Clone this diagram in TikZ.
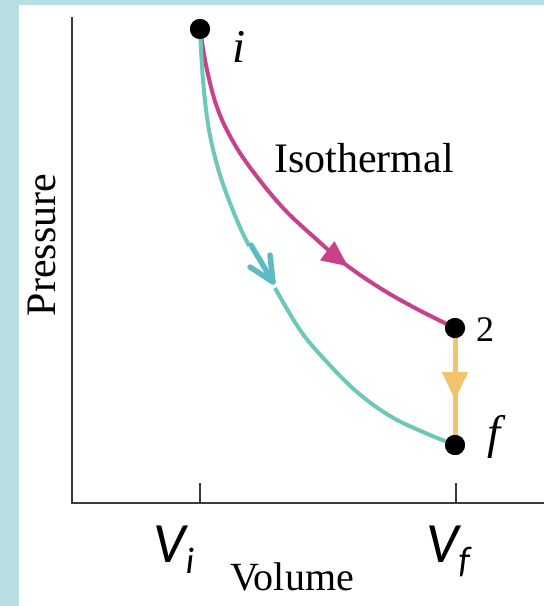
\documentclass[tikz,border=0pt]{standalone}
\usepackage{fontspec}
\setmainfont{Liberation Serif}
\newfontfamily\carl{Carlito}
\usetikzlibrary{arrows.meta,decorations.markings}
\definecolor{bordblue}{HTML}{B8DFE3}
\definecolor{isomag}{HTML}{C8428A}
\definecolor{adiateal}{HTML}{6EC8B9}
\definecolor{chevteal}{HTML}{5DBAC6}
\definecolor{isoorange}{HTML}{F2C46D}
\definecolor{axisgray}{HTML}{3A3A3A}
\tikzset{
  statedot/.style={circle,fill=black,minimum size=20pt,inner sep=0pt},
  axisline/.style={draw=axisgray,line width=2pt},
  serlabel/.style={inner sep=0pt,font=\fontsize{42}{48}\selectfont},
  itlabel/.style={inner sep=0pt,font=\fontsize{47}{52}\selectfont\itshape},
  vlabel/.style={inner sep=0pt,font=\carl\itshape\fontsize{57}{62}\selectfont},
  isocurve/.style={draw=isomag,line width=4pt},
  adiacurve/.style={draw=adiateal,line width=4pt},
}
\begin{document}
\begin{tikzpicture}[x=1pt,y=-1pt]
\fill[bordblue] (0,0) rectangle (544,606);
\fill[white] (19,5) rectangle (544,606);
\useasboundingbox (0,0) rectangle (544,606);
% axes
\coordinate (ytop) at (72,17);
\coordinate (orig) at (72,503);
\coordinate (xend) at (544,503);
\draw[axisline] (ytop) -- (orig) -- (xend);
\coordinate (tvi) at (200,483);
\coordinate (tvib) at (200,503);
\coordinate (tvf) at (456,483);
\coordinate (tvfb) at (456,503);
\draw[axisline] (tvi) -- (tvib);
\draw[axisline] (tvf) -- (tvfb);
% state points
\node[statedot] (i) at (200,29) {};
\node[statedot] (s2) at (455,328) {};
\node[statedot] (f) at (455,445) {};
% isothermal curve
\draw[isocurve,
  postaction={decorate},
  decoration={markings,mark=at position 0.70 with {\arrow[isomag]{Triangle[length=26pt,width=23pt]}}}]
  plot[smooth,tension=0.6] coordinates {(i) (207,70) (218,110) (235,145) (258,178) (285,210) (315,238) (345,264) (380,288) (415,308) (s2)};
% adiabatic curve (two pieces with chevron arrow)
\coordinate (a1) at (249,246);
\coordinate (a2) at (275,288);
\draw[adiacurve] plot[smooth,tension=0.6] coordinates {(i) (203,80) (209,130) (220,175) (236,218) (a1)};
\draw[adiacurve] plot[smooth,tension=0.6] coordinates {(a2) (300,330) (325,360) (357,392) (390,416) (423,432) (f)};
\coordinate (cs) at (251,245);
\coordinate (ct) at (273,282);
\coordinate (cl) at (250,267);
\coordinate (cr) at (270,255);
\draw[chevteal,line width=5.5pt,line cap=round,line join=round] (cs) -- (ct);
\draw[chevteal,line width=5.5pt,line cap=round,line join=round] (cl) -- (ct) -- (cr);
% isovolumetric
\draw[draw=isoorange,line width=5pt,postaction={decorate},
  decoration={markings,mark=at position 0.64 with {\arrow[isoorange]{Triangle[length=28pt,width=25pt]}}}]
  (s2) -- (f);
\node[statedot] at (i) {};
\node[statedot] at (s2) {};
\node[statedot] at (f) {};
% labels
\node[itlabel] (li) at (239,47) {i};
\node[itlabel] (lf) at (494,437) {f};
\node[inner sep=0pt,font=\fontsize{36}{40}\selectfont] (l2) at (485,330) {2};
\node[serlabel,anchor=base west] (liso) at (274,172) {Isothermal};
\node[serlabel,rotate=90,anchor=base] (lp) at (55,245) {Pressure};
\node[inner sep=0pt,anchor=base west,font=\fontsize{40}{44}\selectfont] (lv) at (230,590) {Volume};
\node[vlabel,anchor=base west] (lvi) at (153,562) {V\raisebox{-11pt}{\fontsize{37}{40}\selectfont i}};
\node[vlabel,anchor=base west] (lvf) at (426,562) {V\raisebox{-10pt}{\fontsize{37}{40}\selectfont f}};
\end{tikzpicture}
\end{document}
